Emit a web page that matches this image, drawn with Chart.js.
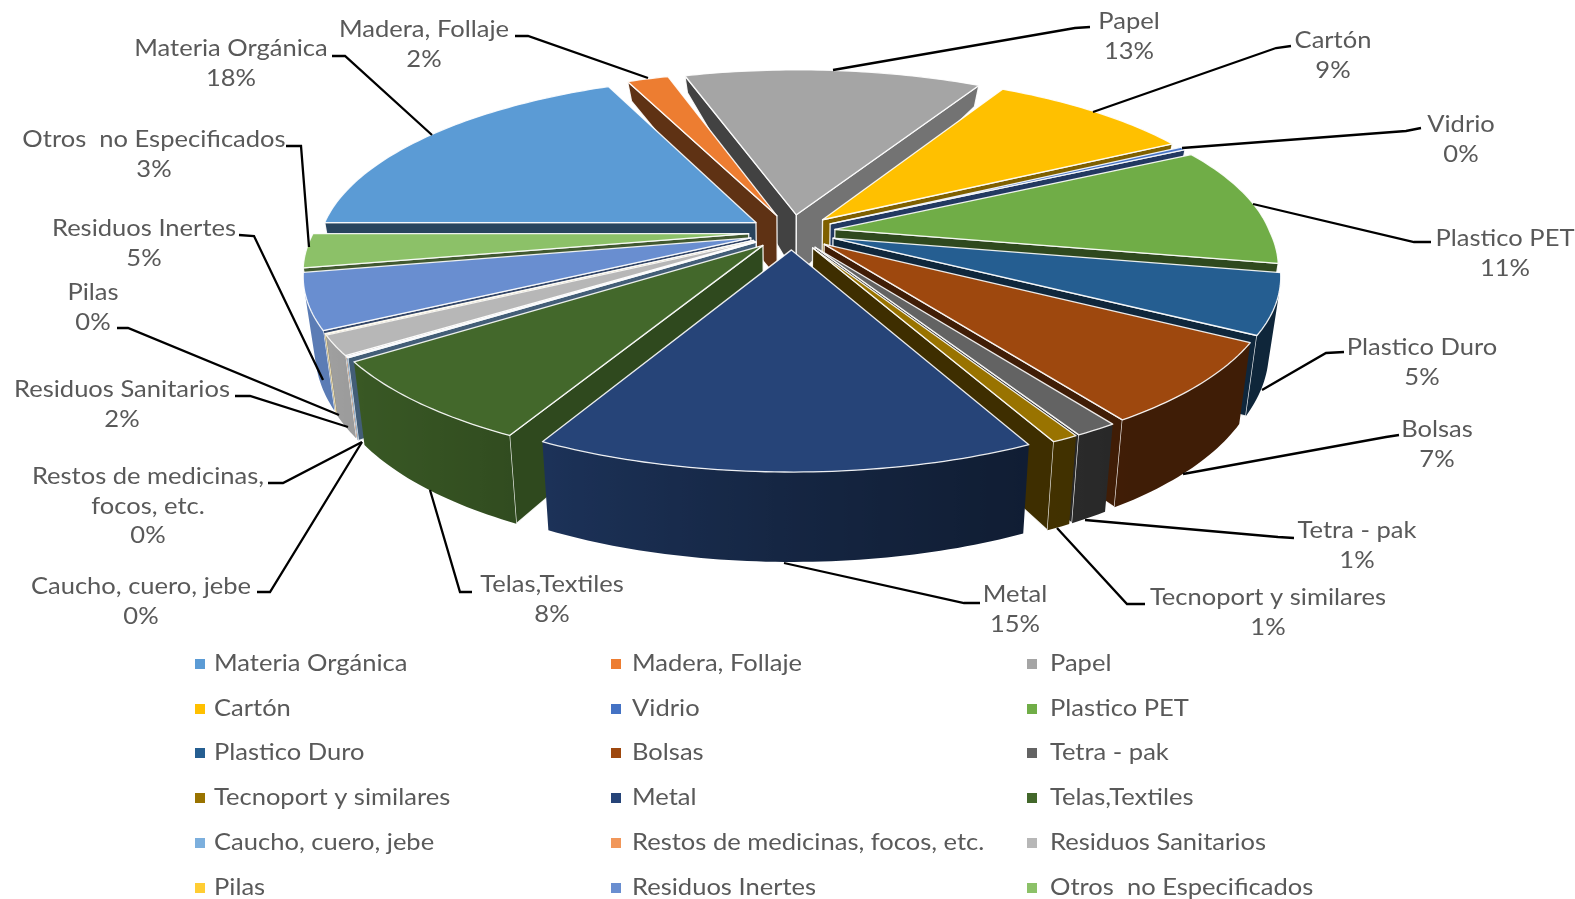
<!DOCTYPE html>
<html>
<head>
<meta charset="utf-8">
<title>Residuos</title>
<script src="https://cdn.jsdelivr.net/npm/chart.js@4"></script>
<style>
  html, body { margin: 0; padding: 0; background: #fff; }
  canvas { display: block; }
</style>
</head>
<body>
<canvas id="myChart" width="1575" height="899"></canvas>
<script>
// datos
const categories = ["Materia Orgánica", "Madera, Follaje", "Papel", "Cartón", "Vidrio", "Plastico PET",
    "Plastico Duro", "Bolsas", "Tetra - pak", "Tecnoport y similares", "Metal", "Telas,Textiles",
    "Caucho, cuero, jebe", "Restos de medicinas, focos, etc.", "Residuos Sanitarios", "Pilas",
    "Residuos Inertes", "Otros  no Especificados"];
const percentages = [18.3, 1.8, 12.9, 9.05, 0.3, 10.65, 5.3, 7.3, 1.3, 0.8, 15.0, 7.5, 0.06, 0.04, 1.75, 0.05, 4.9, 3.0];
const colors = ["#5B9BD5", "#ED7D31", "#A5A5A5", "#FFC000", "#4472C4", "#70AD47", "#255E91", "#9E480E", "#636363",
    "#997300", "#264478", "#43682B", "#7CAFDD", "#F1975A", "#B7B7B7", "#FFCD33", "#698ED0", "#8CC168"];

// posicion de etiquetas: lineas de texto, centro x, y de la primera linea
const labelLines = [
    ["Materia Orgánica"], ["Madera, Follaje"], ["Papel"], ["Cartón"], ["Vidrio"], ["Plastico PET"],
    ["Plastico Duro"], ["Bolsas"], ["Tetra - pak"], ["Tecnoport y similares"], ["Metal"], ["Telas,Textiles"],
    ["Caucho, cuero, jebe"], ["Restos de medicinas,", "focos, etc."], ["Residuos Sanitarios"], ["Pilas"],
    ["Residuos Inertes"], ["Otros  no Especificados"]];
const labelCenters = [[231, 49], [424, 30], [1129, 22], [1333, 41], [1461, 125], [1505, 239],
    [1422, 348], [1437, 430], [1357, 531], [1268, 598], [1015, 595], [552, 585],
    [141, 587], [148, 477], [122, 390], [93, 293], [144, 229], [154, 140]];
// lineas guia
const leaderLines = [
    [[332, 56], [345, 56], [432, 135]], [[515, 36], [528, 36], [648, 78]],
    [[1090, 27], [1075, 28], [833, 70]], [[1291, 46], [1276, 48], [1093, 112]],
    [[1421, 128], [1406, 131], [1182, 148]], [[1431, 242], [1414, 242], [1253, 204]],
    [[1344, 352], [1326, 353], [1262, 390]], [[1399, 435], [1386, 437], [1183, 474]],
    [[1294, 538], [1278, 537], [1085, 520]], [[1145, 604], [1127, 604], [1057, 528]],
    [[980, 603], [964, 603], [784, 563]], [[472, 592], [460, 592], [430, 490]],
    [[257, 592], [270, 592], [362, 442]], [[268, 483], [283, 483], [362, 442]],
    [[235, 396], [250, 396], [348, 427]], [[117, 328], [128, 328], [339, 415]],
    [[239, 235], [254, 236], [323, 380]], [[286, 146], [301, 146], [309, 247]]];
const legendColumns = [200, 616, 1032];
const legendTextGap = [14, 16, 18];
const legendRows = [664, 709, 753, 798, 843, 888];

const TEXT_FONT = "22.5px Lato";
const TEXT_COLOR = "#595959";
const TEXT_STRETCH = 1.135;

// perspectiva de la tarta
const VIEW = { rx: 435, ry: 176, tiltFront: 0.19, tiltBack: 0.16, skewBack: 2, tiltY: 0.176, shrink: 0.024 };

function wallDepth(v) {
    return -11.1 * v * v + 34.4 * v + 65.5;
}

// u derecha, v hacia el frente, en radios del pie
function project(cx, cy, u, v, bottom) {
    const tiltX = v < 0 ? VIEW.tiltBack : VIEW.tiltFront;
    let x = VIEW.rx * u / (1 - tiltX * v);
    if (v < 0) x -= VIEW.skewBack * v;
    let y = VIEW.ry * v / (1 - VIEW.tiltY * v);
    if (bottom) {
        x = x * (1 - VIEW.shrink);
        y = y + wallDepth(v);
    }
    return [cx + x, cy + y];
}

function shade(hex, f) {
    const n = parseInt(hex.slice(1), 16);
    const c = [n >> 16, (n >> 8) & 255, n & 255].map(p => Math.round(p * f));
    return "rgb(" + c.join(",") + ")";
}

function lookup(table, x) {
    if (x <= table[0][0]) return table[0][1];
    for (let i = 1; i < table.length; i++) {
        if (x <= table[i][0]) {
            const a = table[i - 1], b = table[i];
            return a[1] + (b[1] - a[1]) * (x - a[0]) / (b[0] - a[0]);
        }
    }
    return table[table.length - 1][1];
}

const RADIAL_LIGHT = [[118, 0.7], [151, 0.5], [190, 0.42], [250, 0.4]];
const OUTER_LIGHT = [[100, 0.4], [145, 0.4], [160, 0.45], [180, 0.55], [205, 0.72], [220, 0.8], [240, 0.87]];

function compass(angle) {
    return ((angle * 180 / Math.PI + 90) % 360 + 360) % 360;
}

function poly(ctx, pts) {
    ctx.beginPath();
    pts.forEach((p, i) => i ? ctx.lineTo(p[0], p[1]) : ctx.moveTo(p[0], p[1]));
    ctx.closePath();
}

function cross(a0, a1, b0, b1) {
    return (a1[0] - a0[0]) * (b1[1] - b0[1]) - (a1[1] - a0[1]) * (b1[0] - b0[0]);
}

class Arc3D extends Chart.ArcElement {
    static id = "arc3d";
    static defaults = {};

    draw(ctx) {
        const { x, y, startAngle, endAngle, outerRadius, options } = this;
        const mid = (startAngle + endAngle) / 2;
        const e = options.offset / outerRadius;
        const ox = Math.cos(mid) * e, oy = Math.sin(mid) * e;
        const base = options.backgroundColor;
        const top = (a) => project(x, y, Math.cos(a) + ox, Math.sin(a) + oy, false);
        const bot = (a) => project(x, y, Math.cos(a) + ox, Math.sin(a) + oy, true);
        const apexT = project(x, y, ox, oy, false);
        const apexB = project(x, y, ox, oy, true);

        const steps = Math.max(2, Math.ceil((endAngle - startAngle) * 180 / Math.PI));
        const angles = [];
        for (let i = 0; i <= steps; i++) angles.push(startAngle + (endAngle - startAngle) * i / steps);

        ctx.save();
        ctx.lineJoin = "round";

        // paredes radiales, solo las que miran al frente
        const startNormal = (compass(startAngle) + 270) % 360;
        const endNormal = (compass(endAngle) + 90) % 360;
        const faces = [[startAngle, startNormal, -1], [endAngle, endNormal, 1]];
        faces.forEach(([a, n, sign]) => {
            if (cross(apexT, top(a), apexT, apexB) * sign <= 0) return;
            poly(ctx, [apexT, top(a), bot(a), apexB]);
            ctx.fillStyle = shade(base, lookup(RADIAL_LIGHT, n));
            ctx.fill();
            ctx.strokeStyle = options.borderColor;
            ctx.lineWidth = options.borderWidth;
            ctx.stroke();
        });

        // pared exterior visible
        const visible = [];
        for (let i = 0; i < steps; i++) {
            const a0 = angles[i], a1 = angles[i + 1];
            if (cross(top(a0), top(a1), top(a0), bot(a0)) < 0) {
                if (!visible.length) visible.push(a0);
                visible.push(a1);
            }
        }
        if (visible.length > 1) {
            const tops = visible.map(top), bots = visible.map(bot);
            const x0 = tops[0][0], x1 = tops[tops.length - 1][0];
            let fill = shade(base, lookup(OUTER_LIGHT, compass(mid)));
            if (Math.abs(x1 - x0) > 1) {
                fill = ctx.createLinearGradient(x0, 0, x1, 0);
                visible.forEach((a, i) => {
                    const t = Math.min(1, Math.max(0, (tops[i][0] - x0) / (x1 - x0)));
                    fill.addColorStop(t, shade(base, lookup(OUTER_LIGHT, compass(a))));
                });
            }
            poly(ctx, tops.concat(bots.slice().reverse()));
            ctx.fillStyle = fill;
            ctx.fill();
        }

        // tapa
        poly(ctx, [apexT].concat(angles.map(top)));
        ctx.fillStyle = base;
        ctx.fill();
        ctx.strokeStyle = options.borderColor;
        ctx.lineWidth = options.borderWidth;
        ctx.stroke();
        ctx.restore();
    }
}

class Pie3DController extends Chart.PieController {
    static id = "pie3d";
    static defaults = { dataElementType: "arc3d" };

    // de atras hacia adelante
    draw() {
        const ctx = this._ctx;
        const elements = this._cachedMeta.data.slice();
        const depth = (el) => Math.sin((el.startAngle + el.endAngle) / 2);
        elements.sort((a, b) => depth(a) - depth(b));
        elements.forEach(el => el.draw(ctx, this.chart.chartArea));
    }
}

Chart.register(Arc3D, Pie3DController);

function stretchedText(ctx, text, x, y) {
    ctx.save();
    ctx.translate(x, y);
    ctx.scale(TEXT_STRETCH, 1);
    ctx.fillText(text, 0, 0);
    ctx.restore();
}

const labelsPlugin = {
    id: "labels3d",
    afterDatasetsDraw(chart) {
        const ctx = chart.ctx;
        const total = percentages.reduce((a, b) => a + b, 0);
        ctx.save();

        ctx.strokeStyle = "#000";
        ctx.lineWidth = 2.3;
        leaderLines.forEach(line => {
            ctx.beginPath();
            line.forEach((p, i) => i ? ctx.lineTo(p[0], p[1]) : ctx.moveTo(p[0], p[1]));
            ctx.stroke();
        });

        ctx.font = TEXT_FONT;
        ctx.fillStyle = TEXT_COLOR;
        ctx.textAlign = "center";
        ctx.textBaseline = "middle";
        categories.forEach((name, i) => {
            const lines = labelLines[i].concat(Math.round(percentages[i] / total * 100) + "%");
            lines.forEach((t, k) => stretchedText(ctx, t, labelCenters[i][0], labelCenters[i][1] + k * 29.5));
        });

        // leyenda en 3 columnas
        ctx.textAlign = "left";
        categories.forEach((name, i) => {
            const x = legendColumns[i % 3];
            const y = legendRows[Math.floor(i / 3)];
            ctx.fillStyle = colors[i];
            ctx.fillRect(x - 5, y - 5, 10, 10);
            ctx.fillStyle = TEXT_COLOR;
            stretchedText(ctx, name, x + legendTextGap[i % 3], y);
        });
        ctx.restore();
    }
};

const ctx = document.getElementById("myChart").getContext("2d");
new Chart(ctx, {
    type: "pie3d",
    data: {
        labels: categories,
        datasets: [{
            data: percentages,
            backgroundColor: colors,
            borderColor: "rgba(255,255,255,0.9)",
            borderWidth: 1.3,
            offset: 22
        }]
    },
    options: {
        responsive: false,
        animation: false,
        rotation: 270,
        layout: { padding: { left: 9, bottom: 435 } },
        events: [],
        plugins: {
            legend: { display: false },
            tooltip: { enabled: false }
        }
    },
    plugins: [labelsPlugin]
});
</script>
</body>
</html>
